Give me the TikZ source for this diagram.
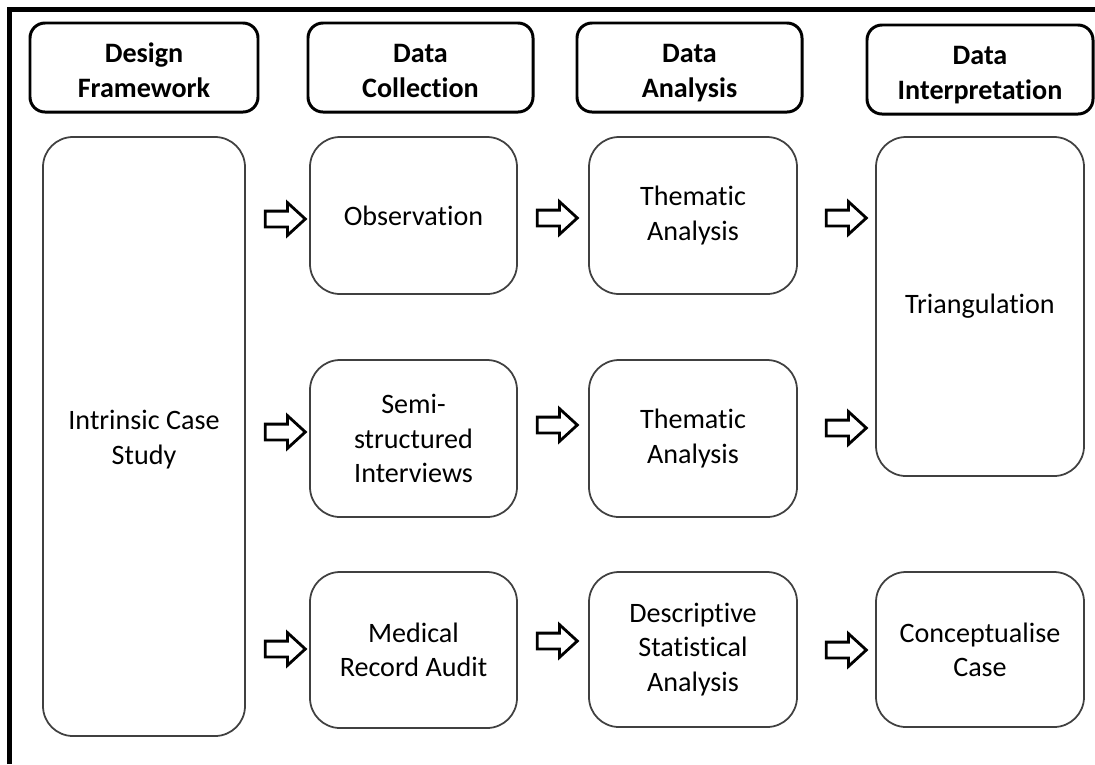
\documentclass[tikz,border=0pt]{standalone}
\usepackage{fontspec}
\setmainfont[Ligatures={NoCommon}]{Carlito}
\usetikzlibrary{shapes.arrows,shadows}

\begin{document}
\begin{tikzpicture}[scale=0.2]
\tikzstyle{every node}+=[inner sep=0pt, align=center, font=\fontsize{16}{19.5}\selectfont]
\tikzstyle{stagebox}=[draw=black, line width=1.7pt, rounded corners=0.3cm, fill=white, font=\fontsize{16}{20}\selectfont\bfseries, execute at begin node={\rule{0pt}{40pt}}, execute at end node={\rule[-6pt]{0pt}{0pt}}, drop shadow={shadow xshift=0.6pt, shadow yshift=-0.6pt, opacity=0.3}]
\tikzstyle{itembox}=[draw=black!75, line width=1pt, rounded corners=0.6cm]
\tikzstyle{blockarrow}=[single arrow, draw=black, line width=1.6pt, minimum height=0.8cm, inner xsep=0pt, inner ysep=0.13cm, single arrow head extend=0.17cm, single arrow tip angle=85]
\useasboundingbox (0,0) rectangle (109.5,-76.4);
% frame
\draw [black, line width=2.8pt] (0.95,-76.4) -- (0.95,-0.95) -- (109.5,-0.95);
% stage headers
\node [stagebox, minimum width=4.56cm, minimum height=1.78cm] (dframe) at (14.4,-6.75) {Design\\Framework};
\node [stagebox, minimum width=4.5cm, minimum height=1.78cm] (dcoll) at (42.05,-6.75) {Data\\Collection};
\node [stagebox, minimum width=4.5cm, minimum height=1.78cm] (dana) at (68.95,-6.75) {Data\\Analysis};
\node [stagebox, minimum width=4.52cm, minimum height=1.78cm] (dint) at (98.0,-6.95) {Data\\Interpretation};
% boxes
\node [itembox, minimum width=4.04cm, minimum height=11.98cm] (ics) at (14.4,-43.65) {};
\node (icstext) at (14.4,-43.95) {Intrinsic Case\\Study};
\node [itembox, minimum width=4.14cm, minimum height=3.14cm] (obs) at (41.35,-21.55) {Observation};
\node [itembox, minimum width=4.14cm, minimum height=3.14cm] (semi) at (41.35,-43.85) {Semi-\\structured\\Interviews};
\node [itembox, minimum width=4.14cm, minimum height=3.12cm] (mra) at (41.35,-65.0) {Medical\\Record Audit};
\node [itembox, minimum width=4.16cm, minimum height=3.14cm] (them1) at (69.3,-21.55) {Thematic\\Analysis};
\node [itembox, minimum width=4.16cm, minimum height=3.14cm] (them2) at (69.3,-43.85) {Thematic\\Analysis};
\node [itembox, minimum width=4.16cm, minimum height=3.1cm] (dsa) at (69.3,-64.95) {Descriptive\\Statistical\\Analysis};
\node [itembox, minimum width=4.16cm, minimum height=6.78cm] (tri) at (98.0,-30.65) {Triangulation};
\node [itembox, minimum width=4.16cm, minimum height=3.1cm] (conc) at (98.0,-64.95) {Conceptualise\\Case};
% arrows
\node [blockarrow] (a11) at (28.1,-21.9) {};
\node [blockarrow] (a21) at (28.1,-43.2) {};
\node [blockarrow] (a31) at (28.1,-64.9) {};
\node [blockarrow] (a12) at (55.3,-21.8) {};
\node [blockarrow] (a22) at (55.3,-42.5) {};
\node [blockarrow] (a32) at (55.3,-64.1) {};
\node [blockarrow] (a13) at (84.2,-21.8) {};
\node [blockarrow] (a23) at (84.2,-42.8) {};
\node [blockarrow] (a33) at (84.2,-65.0) {};
\end{tikzpicture}
\end{document}
